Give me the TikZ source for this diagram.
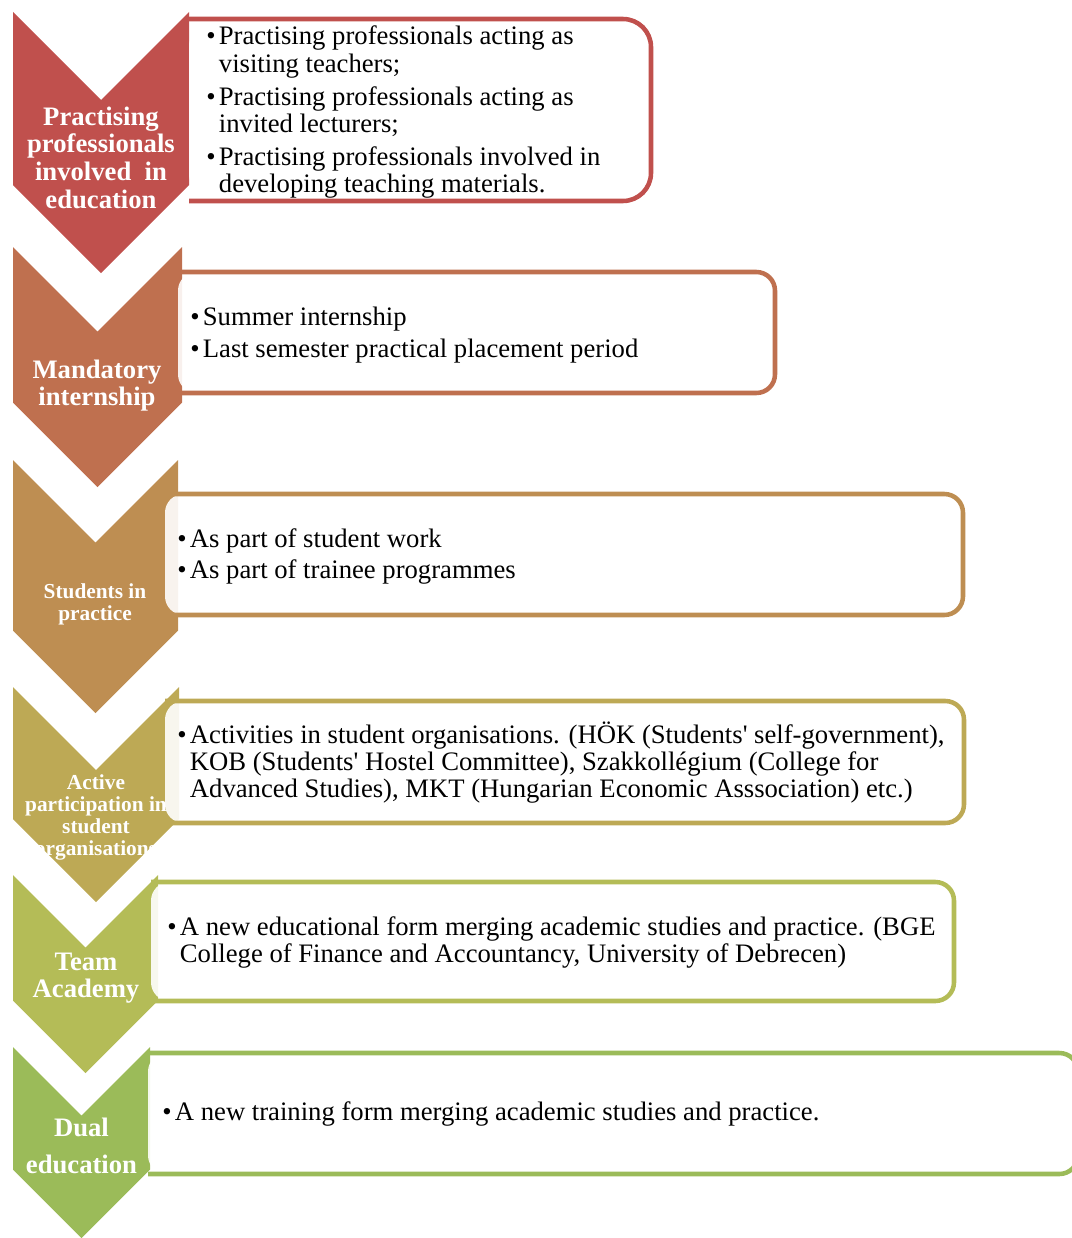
\documentclass[tikz,border=0pt]{standalone}
\usepackage{fontspec}
\setmainfont{Liberation Serif}
\usepackage{xcolor}
\usepackage{tikz}

\definecolor{redstage}{RGB}{192,80,77}
\definecolor{orangestage}{RGB}{191,112,79}
\definecolor{tanstage}{RGB}{190,142,82}
\definecolor{olivestage}{RGB}{189,169,85}
\definecolor{limestage}{RGB}{180,188,87}
\definecolor{greenstage}{RGB}{155,187,89}

\begin{document}
\begin{tikzpicture}[
    x=0.75pt, y=-0.75pt,
    stagetext/.style={
        text=white,
        inner sep=0pt,
        anchor=base,
        font=\fontsize{20}{20.8}\selectfont\bfseries
    },
    smallstage/.style={
        stagetext,
        font=\fontsize{16}{16.5}\selectfont\bfseries
    },
    itembox/.style={
        line width=3.4pt,
        rounded corners=14pt
    },
    itemtext/.style={
        inner sep=0pt,
        anchor=base west,
        font=\fontsize{20}{20.4}\selectfont
    }
]

\useasboundingbox (0,0) rectangle (1071,1238);

% chevrons
\fill[redstage] (13,12) -- (101,100) -- (189,12) -- (189,185) -- (101,273) -- (13,185) -- cycle;
\fill[orangestage] (13,247) -- (97.5,331.5) -- (182,247) -- (182,402.5) -- (97.5,487) -- (13,402.5) -- cycle;
\fill[tanstage] (13,460) -- (95.5,542.5) -- (178,460) -- (178,630.5) -- (95.5,713) -- (13,630.5) -- cycle;
\fill[olivestage] (13,687) -- (96,770) -- (179,687) -- (179,819) -- (96,902) -- (13,819) -- cycle;
\fill[limestage] (13,875) -- (85.5,947.5) -- (158,875) -- (158,1000.5) -- (85.5,1073) -- (13,1000.5) -- cycle;
\fill[greenstage] (13,1047) -- (81.5,1115.5) -- (150,1047) -- (150,1169.5) -- (81.5,1238) -- (13,1169.5) -- cycle;

\node[stagetext] (practising) at (101,125) {\begin{tabular}[t]{@{}c@{}}Practising\\professionals\\involved~~in\\education\end{tabular}};
\node[stagetext] (mandatory) at (97,378) {\begin{tabular}[t]{@{}c@{}}Mandatory\\internship\end{tabular}};
\node[smallstage] (students) at (95,598) {\begin{tabular}[t]{@{}c@{}}Students in\\practice\end{tabular}};
\node[smallstage] (active) at (96,789) {\begin{tabular}[t]{@{}c@{}}Active\\participation in\\student\\organisations\end{tabular}};
\node[stagetext] (team) at (86,970) {\begin{tabular}[t]{@{}c@{}}Team\\Academy\end{tabular}};
\node[stagetext] (dual) at (81.5,1136) {\begin{tabular}[t]{@{}c@{}}Dual\\[7.5pt]education\end{tabular}};

% boxes
\fill[white, fill opacity=0.9, rounded corners=21pt] (189,19) -- (651,19) -- (651,201) -- (189,201) -- cycle;
\draw[itembox, draw=redstage, rounded corners=21pt] (189,19) -- (651,19) -- (651,201) -- (189,201);
\fill[white, fill opacity=0.9, rounded corners=14pt] (178,272) -- (775,272) -- (775,393) -- (178,393) -- cycle;
\draw[itembox, draw=orangestage] (178,272) -- (775,272) -- (775,393) -- (178,393);
\fill[white, fill opacity=0.9, rounded corners=14pt] (165,494) -- (963,494) -- (963,615) -- (165,615) -- cycle;
\draw[itembox, draw=tanstage] (165,494) -- (963,494) -- (963,615) -- (165,615);
\fill[white, fill opacity=0.9, rounded corners=14pt] (165,701) -- (964,701) -- (964,823) -- (165,823) -- cycle;
\draw[itembox, draw=olivestage] (165,701) -- (964,701) -- (964,823) -- (165,823);
\fill[white, fill opacity=0.9, rounded corners=14pt] (151,882) -- (954,882) -- (954,1001) -- (151,1001) -- cycle;
\draw[itembox, draw=limestage] (151,882) -- (954,882) -- (954,1001) -- (151,1001);
\fill[white, fill opacity=0.9, rounded corners=14pt] (148,1053) -- (1078,1053) -- (1078,1174) -- (148,1174) -- cycle;
\draw[itembox, draw=greenstage] (148,1053) -- (1078,1053) -- (1078,1174) -- (148,1174);

\node[itemtext] (practisingitems) at (206,45) {\begin{tabular}[t]{@{}l@{}l@{}}
\makebox[9.5pt][l]{\textbullet} & Practising professionals acting as\\
 & visiting teachers;\\[4.5pt]
\makebox[9.5pt][l]{\textbullet} & Practising professionals acting as\\
 & invited lecturers;\\[4.5pt]
\makebox[9.5pt][l]{\textbullet} & Practising professionals involved in\\
 & developing teaching materials.
\end{tabular}};

\node[itemtext] (mandatoryitems) at (190,325) {\begin{tabular}[t]{@{}l@{}l@{}}
\makebox[9.5pt][l]{\textbullet} & Summer internship\\[3.75pt]
\makebox[9.5pt][l]{\textbullet} & Last semester practical placement period
\end{tabular}};

\node[itemtext] (studentsitems) at (177,547) {\begin{tabular}[t]{@{}l@{}l@{}}
\makebox[9.5pt][l]{\textbullet} & As part of student work\\[3pt]
\makebox[9.5pt][l]{\textbullet} & As part of trainee programmes
\end{tabular}};

\node[itemtext] (activeitems) at (177,743) {\begin{tabular}[t]{@{}l@{}l@{}}
\makebox[9.5pt][l]{\textbullet} & Activities in student organisations. (HÖK (Students\textquotesingle\ self-government),\\
 & KOB (Students\textquotesingle\ Hostel Committee), Szakkollégium (College for\\
 & Advanced Studies), MKT (Hungarian Economic Asssociation) etc.)
\end{tabular}};

\node[itemtext] (teamitems) at (167,935) {\begin{tabular}[t]{@{}l@{}l@{}}
\makebox[9.5pt][l]{\textbullet} & A new educational form merging academic studies and practice. (BGE\\
 & College of Finance and Accountancy, University of Debrecen)
\end{tabular}};

\node[itemtext] (dualitems) at (162,1120) {\begin{tabular}[t]{@{}l@{}l@{}}
\makebox[9.5pt][l]{\textbullet} & A new training form merging academic studies and practice.
\end{tabular}};

\end{tikzpicture}
\end{document}
